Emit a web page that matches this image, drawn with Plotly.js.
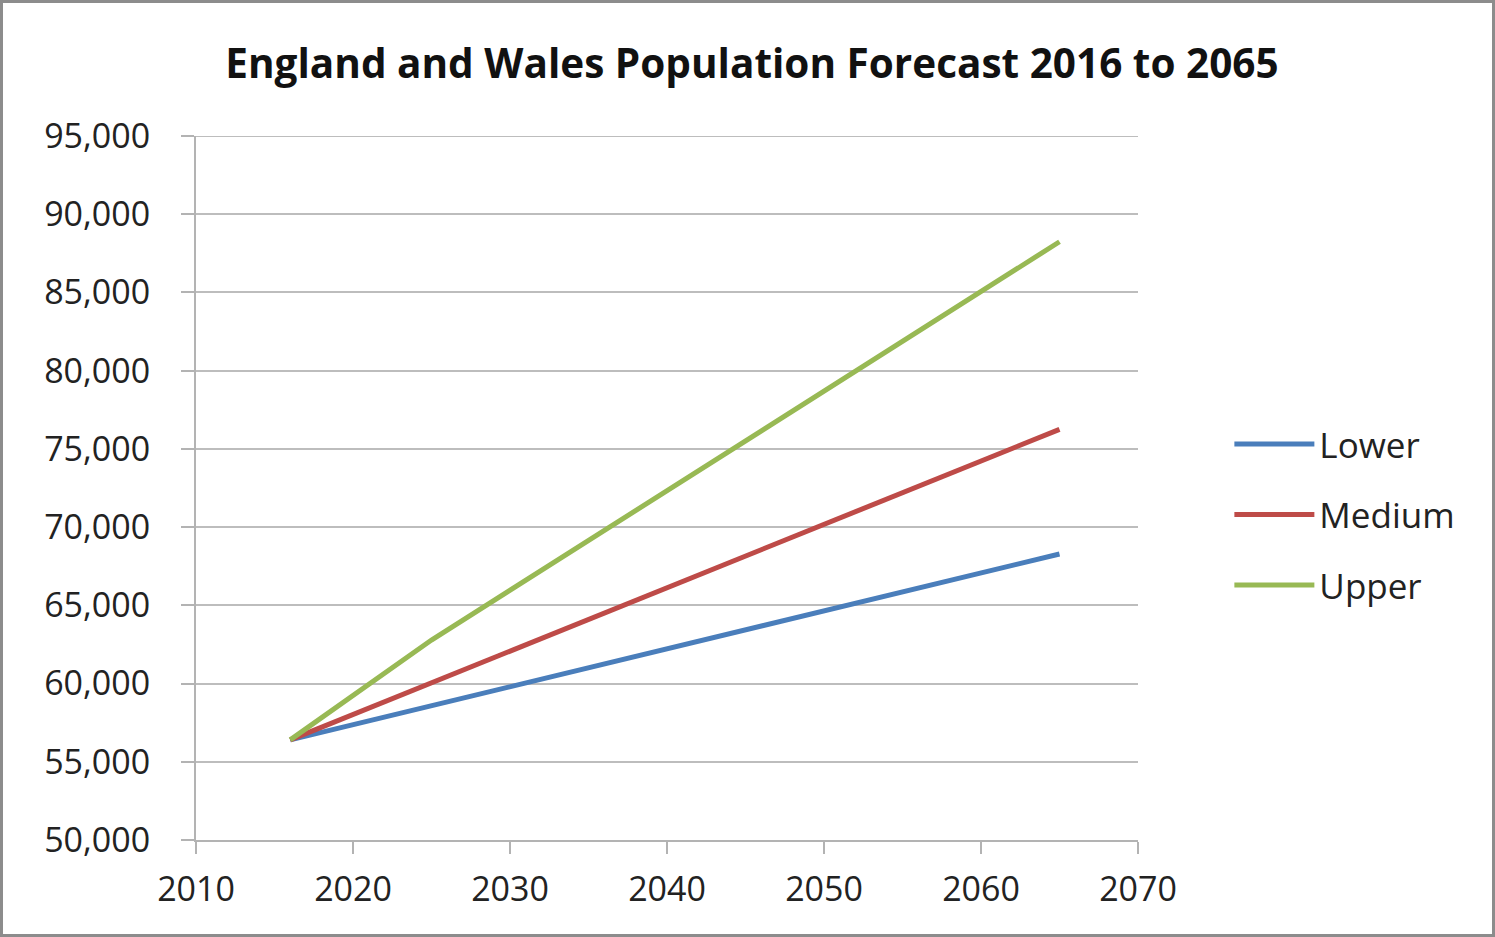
<!DOCTYPE html>
<html>
<head>
<meta charset="utf-8">
<script src="https://cdn.plot.ly/plotly-3.0.1.min.js"></script>
<style>
html,body{margin:0;padding:0;background:#fff;}
#chart{width:1495px;height:937px;box-sizing:border-box;border:3px solid #8c8c8c;}
</style>
</head>
<body>
<div id="chart"></div>
<script>
const seriesNames = ["Lower", "Medium", "Upper"];
const seriesColors = ["#4a7ebb", "#be4b48", "#98b954"];
const lowerYears = [2016, 2065];
const lowerValues = [56400, 68280];
const mediumYears = [2016, 2025, 2065];
const mediumValues = [56400, 60050, 76250];
const upperYears = [2016, 2025, 2065];
const upperValues = [56400, 62780, 88240];
const xTicks = [2010, 2020, 2030, 2040, 2050, 2060, 2070];
const yTicks = [50000, 55000, 60000, 65000, 70000, 75000, 80000, 85000, 90000, 95000];

const FONT = "Open Sans";
const yearsList = [lowerYears, mediumYears, upperYears];
const valuesList = [lowerValues, mediumValues, upperValues];
const traces = seriesNames.map((n, i) => ({
  type: "scatter", mode: "lines", name: n, legendgroup: n,
  x: yearsList[i], y: valuesList[i],
  line: {color: seriesColors[i], width: 5}
}));

const layout = {
  width: 1489, height: 931,
  margin: {l: 193, r: 354, t: 133, b: 94},
  paper_bgcolor: "#fff", plot_bgcolor: "#fff",
  font: {family: FONT, size: 34, color: "#222"},
  title: {text: "<b>England and Wales Population Forecast 2016 to 2065</b>",
          font: {family: FONT, size: 40.5, color: "#111"},
          x: 0.503, xref: "container", y: 0.95, yref: "container", xanchor: "center"},
  xaxis: {range: [2010, 2070], tickvals: xTicks, ticktext: xTicks.map(String),
          showgrid: false, zeroline: false, showline: true, linecolor: "#b3b3b3", linewidth: 2,
          ticks: "outside", ticklen: 12, tickwidth: 2, tickcolor: "#b3b3b3",
          ticklabelstandoff: 6, fixedrange: true},
  yaxis: {range: [50000, 95000], tickvals: yTicks,
          ticktext: yTicks.map(v => v.toLocaleString("en-US")),
          showgrid: true, gridcolor: "#bdbdbd", gridwidth: 2, zeroline: false,
          showline: true, linecolor: "#b3b3b3", linewidth: 2,
          ticks: "outside", ticklen: 13, tickwidth: 2, tickcolor: "#b3b3b3",
          ticklabelstandoff: 24, fixedrange: true},
  shapes: [{type: "line", xref: "paper", yref: "y", x0: 0, x1: 1,
            y0: yTicks[yTicks.length - 1], y1: yTicks[yTicks.length - 1],
            line: {color: "#bdbdbd", width: 2}, layer: "below"}],
  showlegend: true,
  legend: {x: 1.097, xanchor: "left", y: 0.604, yanchor: "top",
           font: {family: FONT, size: 35, color: "#222"},
           itemwidth: 80, tracegroupgap: 22, traceorder: "grouped", bgcolor: "rgba(0,0,0,0)"}
};
Plotly.newPlot("chart", traces, layout, {displayModeBar: false, staticPlot: true});
</script>
</body>
</html>
